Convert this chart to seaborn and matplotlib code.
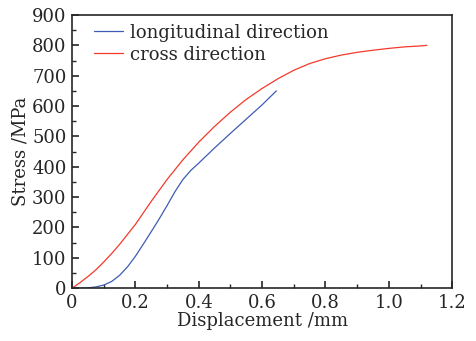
import numpy as np
import pandas as pd
import seaborn as sns
import matplotlib.pyplot as plt
from matplotlib.ticker import MultipleLocator, FuncFormatter

# values
long_disp = [0.0, 0.03, 0.05, 0.075, 0.1, 0.125, 0.15, 0.175, 0.2, 0.225, 0.25, 0.275, 0.3,
             0.325, 0.35, 0.375, 0.4, 0.45, 0.5, 0.55, 0.6, 0.645]
long_stress = [0, 0, 1, 4, 10, 22, 42, 70, 105, 145, 186, 228, 272,
               318, 358, 388, 412, 462, 510, 557, 604, 650]

cross_disp = [0.0, 0.025, 0.05, 0.075, 0.1, 0.125, 0.15, 0.2, 0.25, 0.3, 0.35, 0.4, 0.45, 0.5,
              0.55, 0.6, 0.65, 0.7, 0.75, 0.8, 0.85, 0.9, 0.95, 1.0, 1.05, 1.1, 1.12]
cross_stress = [0, 18, 38, 60, 86, 114, 144, 210, 286, 358, 423, 481, 533, 580,
                622, 658, 690, 718, 740, 756, 768, 777, 784, 790, 795, 798, 800]

df = pd.concat([
    pd.DataFrame({'Displacement': long_disp, 'Stress': long_stress,
                  'Direction': 'longitudinal direction'}),
    pd.DataFrame({'Displacement': cross_disp, 'Stress': cross_stress,
                  'Direction': 'cross direction'}),
])

sns.set_style('ticks')
plt.rcParams['font.family'] = ['DejaVu Serif']
plt.rcParams['xtick.direction'] = 'in'
plt.rcParams['ytick.direction'] = 'in'

fig = plt.figure(figsize=(4.77, 3.41), dpi=100)
ax = fig.add_axes([0.151, 0.155, 0.797, 0.801])
sns.lineplot(data=df, x='Displacement', y='Stress', hue='Direction',
             palette={'longitudinal direction': '#3e5cb5', 'cross direction': '#f23a2a'},
             linewidth=0.9, sort=False, estimator=None, ax=ax)

ax.set_xlim(0, 1.2)
ax.set_ylim(0, 900)
ax.xaxis.set_major_locator(MultipleLocator(0.2))
ax.xaxis.set_minor_locator(MultipleLocator(0.1))
ax.yaxis.set_major_locator(MultipleLocator(100))
ax.yaxis.set_minor_locator(MultipleLocator(50))
ax.xaxis.set_major_formatter(FuncFormatter(lambda v, p: '0' if v == 0 else f'{v:.1f}'))
ax.tick_params(which='major', length=5, width=1.2, labelsize=13, pad=4)
ax.tick_params(which='minor', length=3, width=1.0)
ax.tick_params(top=False, right=False, which='both')
for s in ax.spines.values():
    s.set_linewidth(1.2)

ax.set_xlabel('Displacement /mm', fontsize=13, labelpad=0)
ax.set_ylabel('Stress /MPa', fontsize=13, labelpad=2)
ax.legend(title=None, loc='upper left', frameon=False, fontsize=13,
          handlelength=1.65, handletextpad=0.35, labelspacing=0.22,
          borderaxespad=0.0, bbox_to_anchor=(0.038, 0.995))

fig.savefig('out.png', dpi=100)
